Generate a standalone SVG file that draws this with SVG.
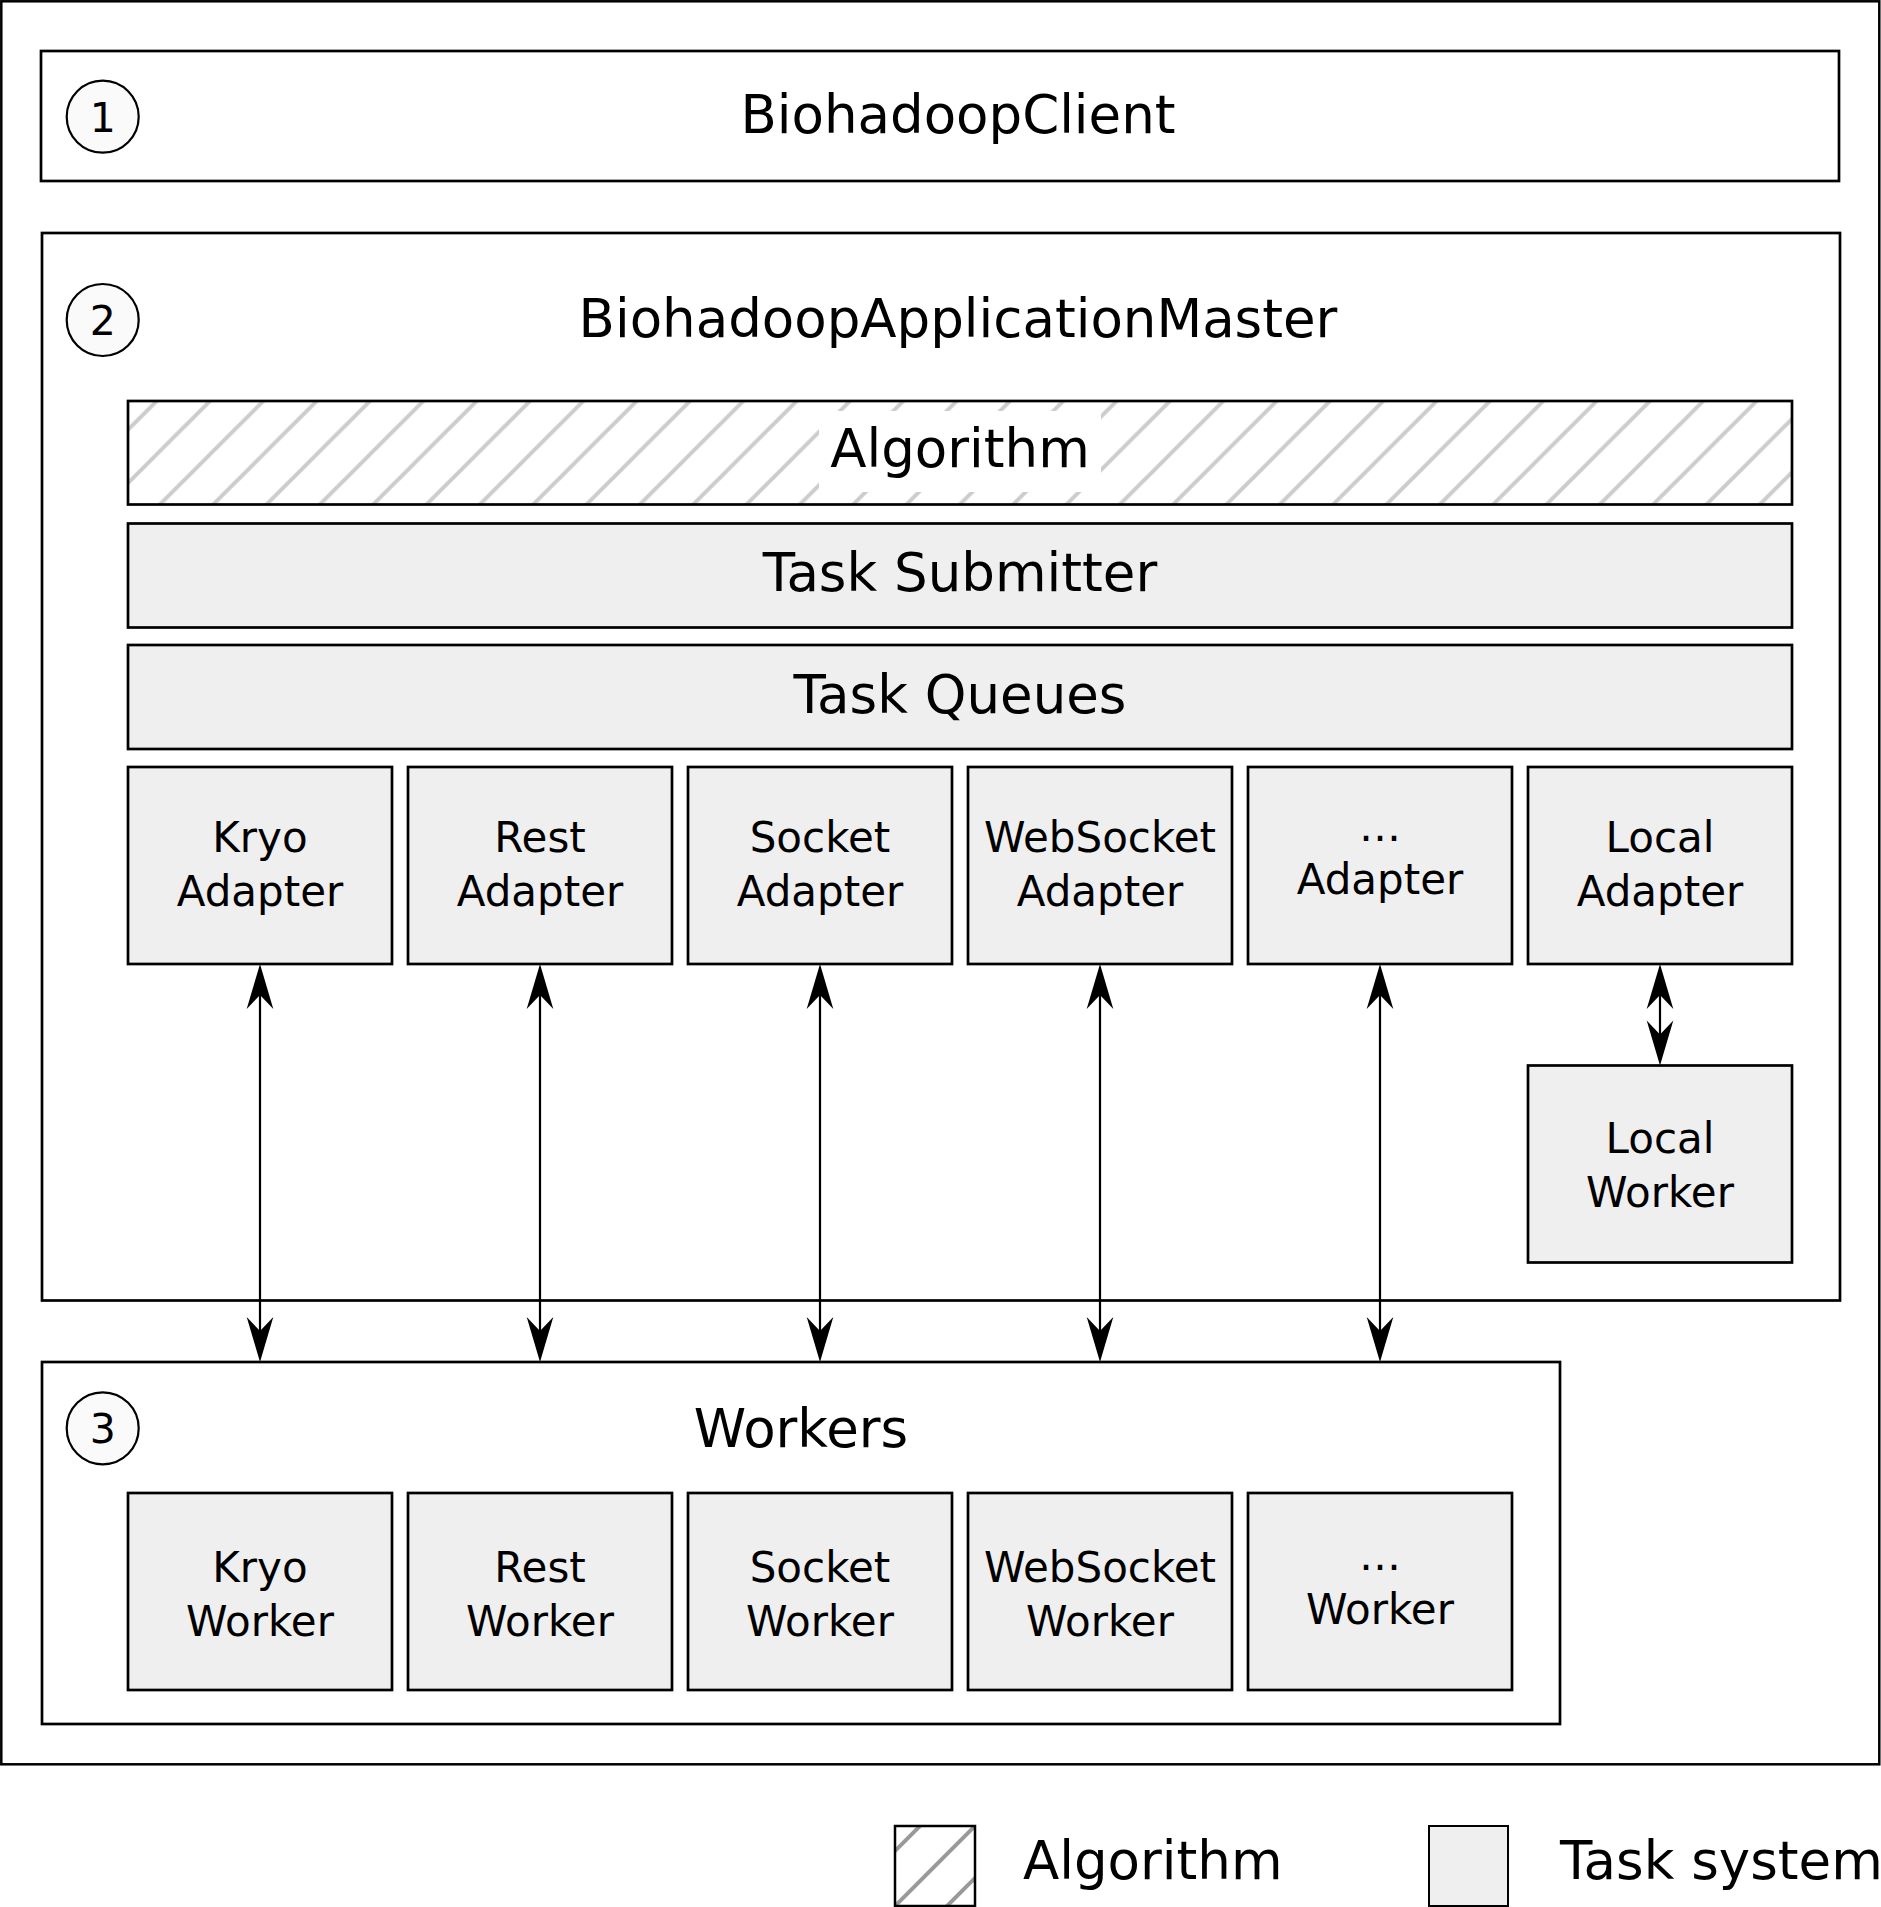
<svg xmlns="http://www.w3.org/2000/svg" width="1881" height="1907" viewBox="0 0 1881 1907">
<style>
.frame{fill:#ffffff;stroke:#000;stroke-width:2.7}
.task{fill:#efefef;stroke:#000;stroke-width:2.7}
.circ{fill:#fafafa;stroke:#000;stroke-width:2.2}
.t{font-family:"DejaVu Sans","Liberation Sans",sans-serif;fill:#000;text-anchor:middle}
.big{font-size:53px}
.mid{font-size:42px}
.num{font-size:41px}
.conn{stroke:#000;stroke-width:2.2;fill:none}
</style>
<defs>
<pattern id="hatch" patternUnits="userSpaceOnUse" x="24.4" y="0" width="53.33" height="53.33">
<path d="M-5,58.33 L58.33,-5 M-5,5 L5,-5 M48.33,58.33 L58.33,48.33" stroke="#cccccc" stroke-width="4"/>
</pattern>
<marker id="ah" markerUnits="userSpaceOnUse" viewBox="-40 -15 55 30" markerWidth="55" markerHeight="30" refX="0" refY="0" orient="auto-start-reverse">
<path d="M10,0 L-35,-13.3 L-21,0 L-35,13.3 Z" fill="#000"/>
</marker>
<clipPath id="legclip"><rect x="895" y="1826" width="80" height="80"/></clipPath>
</defs>
<rect width="1881" height="1907" fill="#fff"/>
<rect x="1.3" y="1.3" width="1878" height="1763" fill="none" stroke="#000" stroke-width="2.5"/>

<g id="client">
<rect class="frame" x="41" y="51" width="1798" height="130"/>
<circle class="circ" cx="102.7" cy="116.7" r="36"/>
<text class="t num" x="102.7" y="131.7">1</text>
<text class="t big" x="958" y="133">BiohadoopClient</text>
</g>

<g id="appmaster">
<rect class="frame" x="42" y="233" width="1798" height="1067.5"/>
<circle class="circ" cx="102.7" cy="320" r="36"/>
<text class="t num" x="102.7" y="335">2</text>
<text class="t big" x="958" y="337">BiohadoopApplicationMaster</text>
</g>

<g id="algorithm">
<rect x="128" y="401" width="1664" height="103.5" fill="url(#hatch)" stroke="#000" stroke-width="2.7"/>
<rect x="819" y="411" width="282" height="81" fill="#fff"/>
<text class="t big" x="960" y="466.7">Algorithm</text>
</g>

<g id="submitter">
<rect class="task" x="128" y="523.5" width="1664" height="104"/>
<text class="t big" x="960" y="590.5">Task Submitter</text>
</g>

<g id="queues">
<rect class="task" x="128" y="645" width="1664" height="104"/>
<text class="t big" x="960" y="712.5">Task Queues</text>
</g>

<g id="kryo-adapter">
<rect class="task" x="128" y="767" width="264" height="197"/>
<text class="t mid" x="260" y="852">Kryo</text>
<text class="t mid" x="260" y="906">Adapter</text>
</g>
<g id="rest-adapter">
<rect class="task" x="408" y="767" width="264" height="197"/>
<text class="t mid" x="540" y="852">Rest</text>
<text class="t mid" x="540" y="906">Adapter</text>
</g>
<g id="socket-adapter">
<rect class="task" x="688" y="767" width="264" height="197"/>
<text class="t mid" x="820" y="852">Socket</text>
<text class="t mid" x="820" y="906">Adapter</text>
</g>
<g id="websocket-adapter">
<rect class="task" x="968" y="767" width="264" height="197"/>
<text class="t mid" x="1100" y="852">WebSocket</text>
<text class="t mid" x="1100" y="906">Adapter</text>
</g>
<g id="other-adapter">
<rect class="task" x="1248" y="767" width="264" height="197"/>
<text class="t mid" x="1380" y="841">…</text>
<text class="t mid" x="1380" y="894">Adapter</text>
</g>
<g id="local-adapter">
<rect class="task" x="1528" y="767" width="264" height="197"/>
<text class="t mid" x="1660" y="852">Local</text>
<text class="t mid" x="1660" y="906">Adapter</text>
</g>
<g id="local-worker">
<rect class="task" x="1528" y="1065.5" width="264" height="197"/>
<text class="t mid" x="1660" y="1153">Local</text>
<text class="t mid" x="1660" y="1207">Worker</text>
</g>

<g id="workers">
<rect class="frame" x="42" y="1362" width="1518" height="362"/>
<circle class="circ" cx="102.7" cy="1428.3" r="36"/>
<text class="t num" x="102.7" y="1443.3">3</text>
<text class="t big" x="801" y="1447">Workers</text>
</g>
<g id="kryo-worker">
<rect class="task" x="128" y="1493" width="264" height="197"/>
<text class="t mid" x="260" y="1581.7">Kryo</text>
<text class="t mid" x="260" y="1635.7">Worker</text>
</g>
<g id="rest-worker">
<rect class="task" x="408" y="1493" width="264" height="197"/>
<text class="t mid" x="540" y="1581.7">Rest</text>
<text class="t mid" x="540" y="1635.7">Worker</text>
</g>
<g id="socket-worker">
<rect class="task" x="688" y="1493" width="264" height="197"/>
<text class="t mid" x="820" y="1581.7">Socket</text>
<text class="t mid" x="820" y="1635.7">Worker</text>
</g>
<g id="websocket-worker">
<rect class="task" x="968" y="1493" width="264" height="197"/>
<text class="t mid" x="1100" y="1581.7">WebSocket</text>
<text class="t mid" x="1100" y="1635.7">Worker</text>
</g>
<g id="other-worker">
<rect class="task" x="1248" y="1493" width="264" height="197"/>
<text class="t mid" x="1380" y="1570">…</text>
<text class="t mid" x="1380" y="1624">Worker</text>
</g>

<g id="connectors">
<line class="conn" x1="260" y1="974" x2="260" y2="1352" marker-start="url(#ah)" marker-end="url(#ah)"/>
<line class="conn" x1="540" y1="974" x2="540" y2="1352" marker-start="url(#ah)" marker-end="url(#ah)"/>
<line class="conn" x1="820" y1="974" x2="820" y2="1352" marker-start="url(#ah)" marker-end="url(#ah)"/>
<line class="conn" x1="1100" y1="974" x2="1100" y2="1352" marker-start="url(#ah)" marker-end="url(#ah)"/>
<line class="conn" x1="1380" y1="974" x2="1380" y2="1352" marker-start="url(#ah)" marker-end="url(#ah)"/>
<line class="conn" x1="1660" y1="974" x2="1660" y2="1055.5" marker-start="url(#ah)" marker-end="url(#ah)"/>
</g>

<g id="legend">
<rect x="895" y="1826" width="80" height="80" fill="#fff"/>
<g clip-path="url(#legclip)" stroke="#999999" stroke-width="4">
<line x1="880" y1="1866" x2="935" y2="1811"/>
<line x1="880" y1="1921" x2="990" y2="1811"/>
<line x1="935" y1="1918" x2="990" y2="1863"/>
</g>
<rect x="895" y="1826" width="80" height="80" fill="none" stroke="#000" stroke-width="2.5"/>
<text class="t big" x="1023" y="1879" text-anchor="start" style="text-anchor:start">Algorithm</text>
<rect x="1429" y="1826" width="79" height="80" fill="#efefef" stroke="#000" stroke-width="2"/>
<text class="t big" x="1560" y="1879" style="text-anchor:start">Task system</text>
</g>
</svg>
